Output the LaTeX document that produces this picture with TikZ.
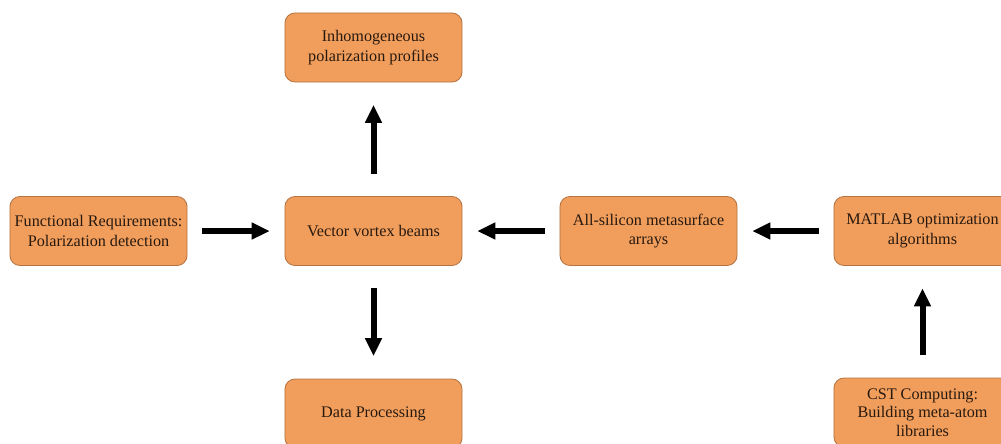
\documentclass[tikz,border=0pt]{standalone}
\usepackage{fontspec}
\setmainfont{Liberation Serif}
\usepackage{tikz}
\usetikzlibrary{arrows.meta}
\definecolor{boxfill}{RGB}{241,158,92}
\definecolor{boxline}{RGB}{180,115,65}
\definecolor{boxtext}{RGB}{40,25,15}

\begin{document}
\begin{tikzpicture}[x=0.025cm,y=-0.025cm,
  box/.style={draw=boxline, line width=0.6pt, fill=boxfill, rounded corners=0.25cm,
    minimum width=4.425cm, minimum height=1.725cm, align=center, text=boxtext,
    font=\fontsize{11.5}{14}\selectfont},
  flow/.style={line width=0.15cm, -{Triangle[length=0.45cm,width=0.4cm]}},
  hflow/.style={flow, shorten <=0.37cm, shorten >=0.37cm},
  vflow/.style={flow, shorten <=0.56cm, shorten >=0.56cm}]
\useasboundingbox (0,0) rectangle (1001,443);
% boxes
\node[box] (req) at (98.5,231) {Functional Requirements:\\Polarization detection};
\node[box] (vvb) at (373.5,231) {Vector vortex beams};
\node[box] (inh) at (373.5,47.5) {Inhomogeneous\\polarization profiles};
\node[box] (data) at (373.5,413.5) {Data Processing};
\node[box] (asi) at (648.5,231) {All-silicon metasurface\\arrays};
\node[box] (mat) at (922.5,231) {MATLAB optimization\\algorithms};
\node[box, font=\fontsize{11.5}{13}\selectfont] (cst) at (922.5,412.5) {CST Computing:\\Building meta-atom\\libraries};
% arrows
\draw[hflow] (req) -- (vvb);
\draw[vflow] (vvb) -- (inh);
\draw[vflow] (vvb) -- (data);
\draw[hflow] (asi) -- (vvb);
\draw[hflow] (mat) -- (asi);
\draw[vflow] (cst) -- (mat);
\end{tikzpicture}
\end{document}
